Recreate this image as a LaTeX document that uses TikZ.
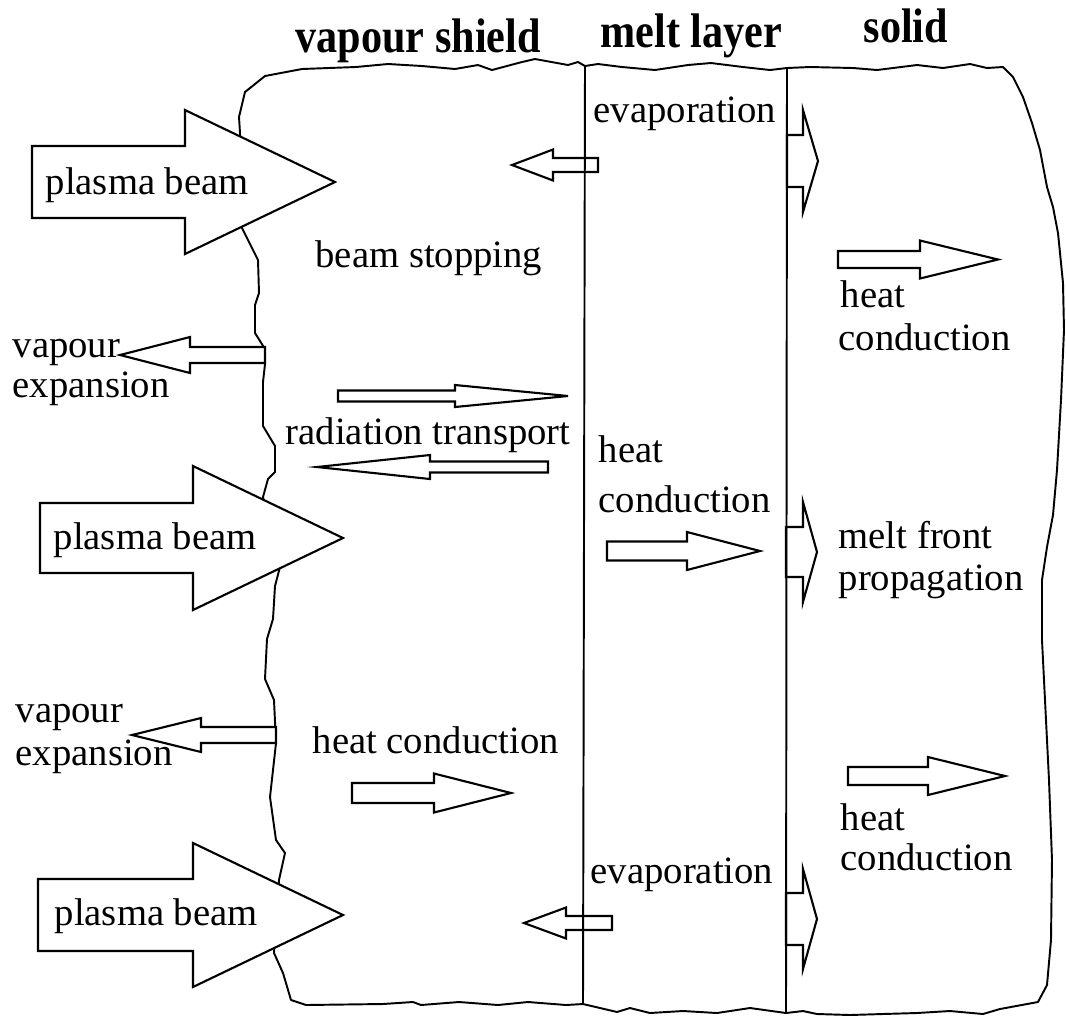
\documentclass[tikz,border=0pt]{standalone}
\usepackage{graphicx}
\usepackage{fontspec}
\setmainfont{Liberation Serif}
\usetikzlibrary{positioning}

\tikzset{
  outline/.style={line width=0.55pt, line join=round},
  wall/.style={line width=0.55pt},
  arrowbox/.style={draw, fill=white, line width=0.6pt, line join=miter},
  txt/.style={inner sep=0pt, anchor=base west, font=\fontsize{11}{13}\selectfont},
  headtxt/.style={inner sep=0pt, anchor=base west, font=\fontsize{12}{14}\selectfont\bfseries},
}

% taller bold heading
\newcommand{\tallbf}[1]{\scalebox{1}[1.15]{#1}}

% block arrow: name, tail x, head base x, tip x, y, shaft half width, head half width
\newcommand{\fatarrow}[7]{%
  \draw[arrowbox] (#2,#5-#6) -- (#3,#5-#6) -- (#3,#5-#7) -- (#4,#5) coordinate (#1)
    -- (#3,#5+#7) -- (#3,#5+#6) -- (#2,#5+#6) -- cycle;}

\begin{document}
\begin{tikzpicture}[x=0.01cm, y=-0.01cm]
  \useasboundingbox (0,0) rectangle (1066,1017);

  % torn sample outline
  \draw[outline] (240,133) -- (239,117) -- (245,92) -- (265,76) -- (302,69) -- (356,67)
    -- (388,64) -- (422,66) -- (455,69) -- (478,65) -- (492,70) -- (522,62) -- (535,59)
    -- (568,65) -- (578,62) -- (585,66) -- (598,64) -- (622,67) -- (655,70) -- (688,65)
    -- (711,63) -- (743,67) -- (770,70) -- (787,68) -- (810,67) -- (853,68) -- (877,70)
    -- (917,65) -- (943,68) -- (970,64) -- (987,68) -- (1003,67)
    -- (1013,77) -- (1023,97) -- (1032,123) -- (1040,150) -- (1047,187) -- (1053,207)
    -- (1058,233) -- (1063,283) -- (1064,330) -- (1061,400) -- (1057,470) -- (1053,515)
    -- (1047,547) -- (1042,580) -- (1042,640) -- (1045,700) -- (1049,780) -- (1052,860)
    -- (1051,940) -- (1047,985) -- (1038,1002)
    -- (1000,1009) -- (983,1014) -- (950,1011) -- (917,1013) -- (883,1014) -- (850,1015)
    -- (817,1014) -- (803,1011) -- (786,1013) -- (750,1008) -- (717,1013) -- (683,1011)
    -- (650,1013) -- (630,1008) -- (617,1012) -- (583,1004) -- (566,1005) -- (528,1002)
    -- (498,1005) -- (459,1002) -- (421,1005) -- (413,1002) -- (383,1004) -- (306,1005)
    -- (291,1000) -- (283,973) -- (274,953) -- (279,880) -- (285,853) -- (276,840)
    -- (270,797) -- (276,743) -- (274,700) -- (265,679) -- (267,639) -- (273,619)
    -- (275,586) -- (280,567) -- (270,530) -- (263,497) -- (268,479) -- (275,472)
    -- (275,446) -- (263,426) -- (263,382) -- (265,364) -- (265,349) -- (255,333)
    -- (255,305) -- (259,293) -- (258,260) -- (242,228) -- cycle;

  % region headings
  \node[headtxt] (shield) at (295,52) {\tallbf{vapour shield}};
  \node[headtxt] (melt) at (600,47) {\tallbf{melt layer}};
  \node[headtxt] (solid) at (863,42) {\tallbf{solid}};

  % plasma beams
  \fatarrow{pb1}{32}{185}{335}{182}{36}{72}
  \fatarrow{pb2}{40}{193}{343}{538}{35}{72}
  \fatarrow{pb3}{38}{193}{343}{915}{36}{72}
  \node[txt] (pbt1) at (45,194) {plasma beam};
  \node[txt] (pbt2) at (53,549) {plasma beam};
  \node[txt] (pbt3) at (54,925) {plasma beam};

  % vapour shield
  \fatarrow{vx1}{265}{190}{120}{355}{8}{18}
  \fatarrow{vx2}{276}{201}{132}{735}{8}{17}
  \node[txt] (vxa1) at (12,357) {vapour};
  \node[txt] (vxb1) at (12,397) {expansion};
  \node[txt] (vxa2) at (15,722) {vapour};
  \node[txt] (vxb2) at (15,765) {expansion};
  \node[txt, anchor=base east] (stop) at (543,267) {beam stopping};
  \fatarrow{rad1}{338}{455}{568}{396}{5.5}{11}
  \fatarrow{rad2}{548}{430}{317}{467}{5.5}{12}
  \node[txt] (radt) at (285,444) {radiation transport};
  \node[txt] (hcv) at (312,753) {heat conduction};
  \fatarrow{hv}{352}{434}{511}{793}{10}{19.5}

  % melt layer
  \fatarrow{ev1}{598}{553}{512}{165}{7}{15.5}
  \fatarrow{ev2}{612}{566}{524}{923}{7}{15.5}
  \node[txt] (evt1) at (593,122) {evaporation};
  \node[txt] (evt2) at (590,883) {evaporation};
  \node[txt] (hma) at (598,462) {heat};
  \node[txt] (hmb) at (598,512) {conduction};
  \fatarrow{hm}{607}{687}{760}{551}{9.5}{19}

  % solid
  \fatarrow{mf1}{787}{803}{818}{161}{26}{51}
  \fatarrow{mf2}{786}{803}{817}{552}{25}{50}
  \fatarrow{mf3}{786}{803}{817}{919}{26}{50}
  \node[txt] (mfa) at (838,548) {melt front};
  \node[txt] (mfb) at (838,590) {propagation};
  \fatarrow{hs1}{838}{920}{998}{259.5}{8.5}{19}
  \fatarrow{hs2}{848}{928}{1005}{776}{9}{19}
  \node[txt] (hsa1) at (840,307) {heat};
  \node[txt] (hsb1) at (838,350) {conduction};
  \node[txt] (hsa2) at (840,830) {heat};
  \node[txt] (hsb2) at (840,870) {conduction};

  % interfaces
  \coordinate (mtop) at (585,66);
  \coordinate (mbot) at (583,1004);
  \coordinate (ftop) at (787,68);
  \coordinate (fbot) at (786,1013);
  \draw[wall] (mtop) -- (mbot);
  \draw[wall] (ftop) -- (fbot);
\end{tikzpicture}
\end{document}
